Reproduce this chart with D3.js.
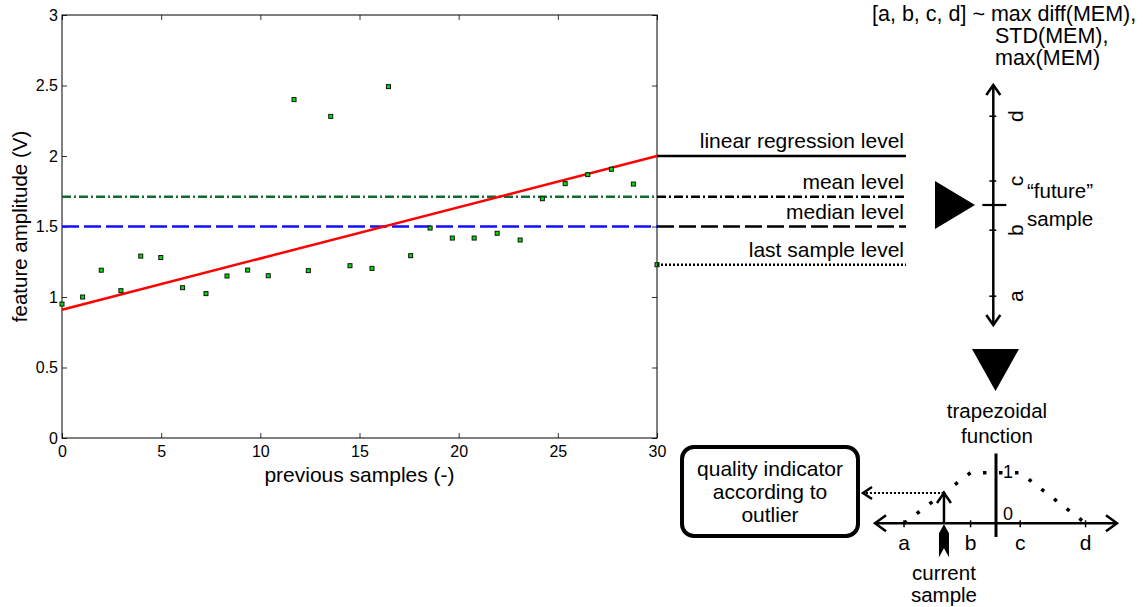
<!DOCTYPE html>
<html>
<head>
<meta charset="utf-8">
<script src="https://cdn.jsdelivr.net/npm/d3@7"></script>
<style>
body { margin: 0; background: #fff; }
text { font-family: "Liberation Sans", Arial, Helvetica, sans-serif; fill: #000; }
</style>
</head>
<body>
<div id="chart"></div>
<script>
var W = 1143, H = 607;

// samples
var sampleX = [0, 1.04, 1.98, 2.97, 3.97, 4.98, 6.08, 7.26, 8.32, 9.36, 10.4, 11.7, 12.42, 13.55, 14.52,
  15.63, 16.46, 17.58, 18.56, 19.68, 20.78, 21.94, 23.1, 24.22, 25.37, 26.51, 27.7, 28.81, 30];
var sampleY = [0.95, 1.0, 1.19, 1.045, 1.29, 1.28, 1.066, 1.024, 1.149, 1.191, 1.151, 2.40, 1.187, 2.281, 1.222,
  1.203, 2.492, 1.293, 1.489, 1.418, 1.418, 1.452, 1.404, 1.697, 1.804, 1.868, 1.906, 1.801, 1.229];

var regressionEnds = [0.91, 2.0];
var meanLevel = 1.711;
var medianLevel = 1.5;

var levelNames = ["linear regression level", "mean level", "median level", "last sample level"];
var levelValues = [2.0, 1.711, 1.5, 1.229];
var levelDash = [null, "9,3,2,3", "17,5", "2,2"];

var xTicks = [0, 5, 10, 15, 20, 25, 30];
var yTicks = [0, 0.5, 1, 1.5, 2, 2.5, 3];

// schematic on the right
var rangeLabels = ["a", "b", "c", "d"];
var rangeValues = [1.2, 3.95, 6.0, 8.7];
var futureValue = 5.0;
var currentValue = 2.85;
var titleLines = ["[a, b, c, d] ~ max diff(MEM),", "STD(MEM),", "max(MEM)"];
var boxLines = ["quality indicator", "according to", "outlier"];

var svg = d3.select("#chart").append("svg")
    .attr("width", W)
    .attr("height", H);

var x = d3.scaleLinear().domain([0, 30]).range([62, 657]);
var y = d3.scaleLinear().domain([0, 3]).range([438, 15]);

// axes, MATLAB style ticks pointing inside
svg.append("g")
    .attr("transform", "translate(0,438)")
    .call(d3.axisBottom(x).tickValues(xTicks).tickSize(-5).tickSizeOuter(0).tickPadding(8))
    .call(function(g) { g.selectAll("text").style("font-size", "16px"); });
svg.append("g")
    .attr("transform", "translate(62,0)")
    .call(d3.axisLeft(y).tickValues(yTicks).tickSize(-5).tickSizeOuter(0).tickPadding(4).tickFormat(d3.format("~g")))
    .call(function(g) { g.selectAll("text").style("font-size", "16px"); });
svg.append("g")
    .attr("transform", "translate(0,15)")
    .call(d3.axisTop(x).tickValues(xTicks).tickSize(-5).tickSizeOuter(0).tickFormat(""));
svg.append("g")
    .attr("transform", "translate(657,0)")
    .call(d3.axisRight(y).tickValues(yTicks).tickSize(-5).tickSizeOuter(0).tickFormat(""));
svg.selectAll(".domain").remove();
svg.selectAll(".tick line").attr("stroke", "#333");

svg.append("rect")
    .attr("x", x(0)).attr("y", y(3))
    .attr("width", x(30) - x(0)).attr("height", y(0) - y(3))
    .attr("fill", "none").attr("stroke", "#000").attr("stroke-width", 1);

svg.append("text")
    .attr("x", (x(0) + x(30)) / 2).attr("y", 482)
    .attr("text-anchor", "middle")
    .style("font-size", "21px")
    .text("previous samples (-)");
svg.append("text")
    .attr("transform", "translate(27," + (y(0) + y(3)) / 2 + ") rotate(-90)")
    .attr("text-anchor", "middle")
    .style("font-size", "20.5px")
    .text("feature amplitude (V)");

var line = d3.line().x(function(d) { return x(d[0]); }).y(function(d) { return y(d[1]); });

svg.append("path")
    .attr("d", line([[0, meanLevel], [30, meanLevel]]))
    .attr("stroke", "#126b33").attr("stroke-width", 2.6).attr("fill", "none")
    .attr("stroke-dasharray", "9,3,2,3");
svg.append("path")
    .attr("d", line([[0, medianLevel], [30, medianLevel]]))
    .attr("stroke", "#1010ff").attr("stroke-width", 2.6).attr("fill", "none")
    .attr("stroke-dasharray", "17,5");
svg.append("path")
    .attr("d", line([[0, regressionEnds[0]], [30, regressionEnds[1]]]))
    .attr("stroke", "#ff0000").attr("stroke-width", 2.5).attr("fill", "none");

svg.selectAll(".pt")
    .data(sampleX)
    .enter().append("rect")
    .attr("class", "pt")
    .attr("x", function(d) { return x(d) - 2; })
    .attr("y", function(d, i) { return y(sampleY[i]) - 2; })
    .attr("width", 4).attr("height", 4)
    .attr("fill", "#00e000").attr("stroke", "#111").attr("stroke-width", 1);

// level legend lines to the right of the plot
var levels = svg.selectAll(".level")
    .data(levelValues)
    .enter().append("g")
    .attr("class", "level");
levels.append("line")
    .attr("x1", x(30)).attr("x2", 906)
    .attr("y1", function(d) { return y(d); })
    .attr("y2", function(d) { return y(d); })
    .attr("stroke", "#000").attr("stroke-width", 2.4)
    .attr("stroke-dasharray", function(d, i) { return levelDash[i]; });
levels.append("text")
    .attr("x", 904)
    .attr("y", function(d) { return y(d) - 8; })
    .attr("text-anchor", "end")
    .style("font-size", "21px")
    .text(function(d, i) { return levelNames[i]; });

// vertical range axis
var vy = d3.scaleLinear().domain([0, 10]).range([325, 85]);
var ax = 993.3;
var stroke = { stroke: "#000", "stroke-width": 2.5, fill: "none" };
function styled(sel, s) { for (var k in s) sel.attr(k, s[k]); return sel; }

styled(svg.append("line").attr("x1", ax).attr("x2", ax).attr("y1", vy(0)).attr("y2", vy(10)), stroke);
styled(svg.append("path").attr("d", "M" + (ax - 7) + "," + (vy(10) + 10) + "L" + ax + "," + vy(10) + "L" + (ax + 7) + "," + (vy(10) + 10)), stroke);
styled(svg.append("path").attr("d", "M" + (ax - 7) + "," + (vy(0) - 10) + "L" + ax + "," + vy(0) + "L" + (ax + 7) + "," + (vy(0) - 10)), stroke);

svg.selectAll(".vtick")
    .data(rangeValues)
    .enter().append("line")
    .attr("x1", ax - 4).attr("x2", ax + 3)
    .attr("y1", function(d) { return vy(d); })
    .attr("y2", function(d) { return vy(d); })
    .attr("stroke", "#000").attr("stroke-width", 1.5);
svg.selectAll(".vlab")
    .data(rangeValues)
    .enter().append("text")
    .attr("transform", function(d) { return "translate(" + (ax + 22) + "," + vy(d) + ") rotate(-90)"; })
    .attr("text-anchor", "middle")
    .attr("dy", "0.35em")
    .style("font-size", "21px")
    .text(function(d, i) { return rangeLabels[i]; });

svg.append("line")
    .attr("x1", ax - 11).attr("x2", ax + 13)
    .attr("y1", vy(futureValue)).attr("y2", vy(futureValue))
    .attr("stroke", "#000").attr("stroke-width", 2.2);
svg.append("path")
    .attr("d", "M935," + (vy(futureValue) - 24) + "L975," + vy(futureValue) + "L935," + (vy(futureValue) + 24) + "Z")
    .attr("fill", "#000");
svg.append("text").attr("x", 1027).attr("y", 198).style("font-size", "20.5px").text("\u201cfuture\u201d");
svg.append("text").attr("x", 1027).attr("y", 226).style("font-size", "20.5px").text("sample");

svg.selectAll(".title")
    .data(titleLines)
    .enter().append("text")
    .attr("x", function(d, i) { return i === 0 ? 872 : 995; })
    .attr("y", function(d, i) { return 21 + i * 22; })
    .style("font-size", "21.5px")
    .text(function(d) { return d; });

// arrow down to the trapezoid
svg.append("path").attr("d", "M972,349L1019,349L995.5,391Z").attr("fill", "#000");
svg.append("text").attr("x", 997).attr("y", 418).attr("text-anchor", "middle").style("font-size", "20.5px").text("trapezoidal");
svg.append("text").attr("x", 997).attr("y", 443).attr("text-anchor", "middle").style("font-size", "20.5px").text("function");

// trapezoidal membership function
var hx = d3.scaleLinear().domain([0, 10]).range([875, 1117]);
var my = d3.scaleLinear().domain([0, 1]).range([523.3, 472.7]);
var y0 = my(0);

styled(svg.append("line").attr("x1", hx(0)).attr("x2", hx(10)).attr("y1", y0).attr("y2", y0), stroke);
styled(svg.append("path").attr("d", "M" + (hx(0) + 11) + "," + (y0 - 8) + "L" + hx(0) + "," + y0 + "L" + (hx(0) + 11) + "," + (y0 + 8)), stroke);
styled(svg.append("path").attr("d", "M" + (hx(10) - 11) + "," + (y0 - 8) + "L" + hx(10) + "," + y0 + "L" + (hx(10) - 11) + "," + (y0 + 8)), stroke);
svg.append("line")
    .attr("x1", hx(futureValue)).attr("x2", hx(futureValue))
    .attr("y1", my(1.38)).attr("y2", my(-0.27))
    .attr("stroke", "#000").attr("stroke-width", 3);
svg.append("text").attr("x", hx(futureValue) + 7).attr("y", my(0.89)).style("font-size", "18px").text("1");
svg.append("text").attr("x", hx(futureValue) + 7).attr("y", my(0.07)).style("font-size", "18px").text("0");

svg.selectAll(".htick")
    .data(rangeValues)
    .enter().append("line")
    .attr("x1", function(d) { return hx(d); })
    .attr("x2", function(d) { return hx(d); })
    .attr("y1", y0 - 3).attr("y2", y0 + 4)
    .attr("stroke", "#000").attr("stroke-width", 1.5);
svg.selectAll(".hlab")
    .data(rangeValues)
    .enter().append("text")
    .attr("x", function(d) { return hx(d); })
    .attr("y", 550)
    .attr("text-anchor", "middle")
    .style("font-size", "21px")
    .text(function(d, i) { return rangeLabels[i]; });

var trap = d3.line().x(function(d) { return hx(d[0]); }).y(function(d) { return my(d[1]); });
svg.append("path")
    .attr("d", trap([[rangeValues[0], 0], [rangeValues[1], 1], [rangeValues[2], 1], [rangeValues[3], 0]]))
    .attr("fill", "none").attr("stroke", "#000").attr("stroke-width", 3.5)
    .attr("stroke-dasharray", "3.5,12.5");

// current sample and its membership
var cx = hx(currentValue);
var cm = (currentValue - rangeValues[0]) / (rangeValues[1] - rangeValues[0]);
var cy = my(cm);
styled(svg.append("line").attr("x1", cx).attr("x2", cx).attr("y1", y0).attr("y2", cy), stroke);
styled(svg.append("path").attr("d", "M" + (cx - 7) + "," + (cy + 10) + "L" + cx + "," + cy + "L" + (cx + 7) + "," + (cy + 10)), stroke);
svg.append("path")
    .attr("d", "M" + cx + "," + (y0 + 1) + "L" + (cx + 5) + "," + (y0 + 10) + "L" + (cx + 5) + "," + (y0 + 34) +
      "L" + cx + "," + (y0 + 25) + "L" + (cx - 5) + "," + (y0 + 34) + "L" + (cx - 5) + "," + (y0 + 10) + "Z")
    .attr("fill", "#000");
svg.append("text").attr("x", cx).attr("y", 580).attr("text-anchor", "middle").style("font-size", "20.5px").text("current");
svg.append("text").attr("x", cx).attr("y", 602).attr("text-anchor", "middle").style("font-size", "20.5px").text("sample");

svg.append("line")
    .attr("x1", cx).attr("x2", 863).attr("y1", cy).attr("y2", cy)
    .attr("stroke", "#000").attr("stroke-width", 2).attr("stroke-dasharray", "2,2");
styled(svg.append("path").attr("d", "M872," + (cy - 6) + "L863," + cy + "L872," + (cy + 6)), stroke);

// quality indicator box
svg.append("rect")
    .attr("x", 682).attr("y", 447).attr("width", 176).attr("height", 89).attr("rx", 12)
    .attr("fill", "#fff").attr("stroke", "#000").attr("stroke-width", 4);
svg.selectAll(".boxtxt")
    .data(boxLines)
    .enter().append("text")
    .attr("x", 770)
    .attr("y", function(d, i) { return 476 + i * 23; })
    .attr("text-anchor", "middle")
    .style("font-size", "21px")
    .text(function(d) { return d; });
</script>
</body>
</html>
